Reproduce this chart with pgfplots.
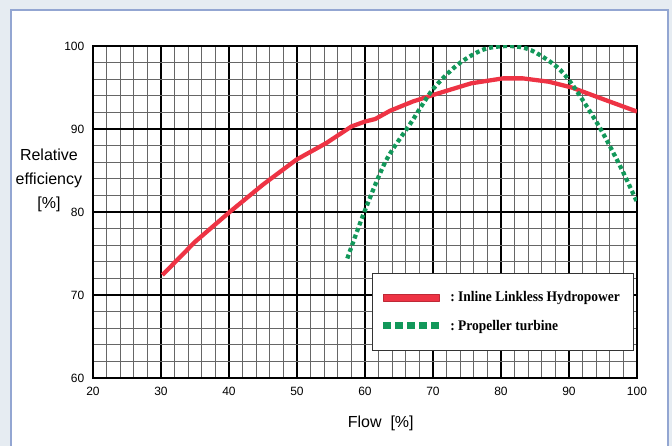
\documentclass[border=0pt]{standalone}
\usepackage{graphicx}
\usepackage{fontspec}
\setmainfont{Liberation Sans}
\newfontfamily\legfont{Liberation Serif}
\usepackage{pgfplots}
\pgfplotsset{compat=1.18}

\definecolor{hydrored}{HTML}{EE3344}
\definecolor{propgreen}{HTML}{12985A}
\definecolor{framebg}{HTML}{E6ECF2}
\definecolor{frameline}{HTML}{93A6D2}

\begin{document}
\begin{tikzpicture}
% page frame (672x446 px at 0.75pt/px)
\useasboundingbox (0,0) rectangle (504pt,334.5pt);
\fill[framebg] (0,0) rectangle (504pt,334.5pt);
\filldraw[fill=white, draw=frameline, line width=1.4pt] (8.25pt,-5pt) rectangle (501pt,327pt);

\begin{axis}[
    at={(69.75pt,51pt)}, anchor=south west,
    scale only axis,
    width=408pt, height=249pt,
    xmin=20, xmax=100, ymin=60, ymax=100,
    xtick={20,30,...,100}, ytick={60,70,...,100},
    minor tick num=4,
    major tick length=0pt, minor tick length=0pt,
    grid=both,
    major grid style={black, line width=1.1pt},
    minor grid style={black!60, line width=0.5pt},
    axis line style={black, line width=1.2pt},
    tick label style={font=\fontsize{9}{10}\selectfont},
    /pgf/number format/assume math mode=true,
    xticklabel style={yshift=-3pt},
    yticklabel style={xshift=-3pt},
    xlabel={Flow\ \ [\%]},
    ylabel={Relative\\efficiency\\{}[\%]},
    every axis x label/.style={at={(axis description cs:0.529,-0.136)}, anchor=center, font=\fontsize{12}{14}\selectfont},
    every axis y label/.style={at={(axis description cs:-0.081,0.596)}, anchor=center, align=center, font=\fontsize{12}{18}\selectfont},
    legend cell align=left,
    legend style={at={(axis description cs:0.513,0.081)}, anchor=south west,
        draw=black!80, line width=0.6pt, fill=white,
        inner xsep=8pt, inner ysep=12pt, row sep=8pt,
        font=\legfont\bfseries\fontsize{11}{12}\selectfont},
]
\addplot[hydrored, line width=3.2pt, line join=round,
    legend image code/.code={\filldraw[solid, draw=hydrored!80!black, fill=hydrored, line width=0.4pt] (0pt,-2.4pt) rectangle (42pt,2.4pt);}]
coordinates {
    (30.2,72.4) (35,76.4) (40.1,80.0) (45,83.3) (49.9,86.3) (54.3,88.3)
    (58.0,90.3) (60,90.9) (61.5,91.2) (63.7,92.2) (67,93.3) (70.0,94.1)
    (75.6,95.5) (80.3,96.1) (83.2,96.1) (87,95.7) (90.4,95.0) (95,93.6)
    (100,92.1)
};
\addlegendentry{\hspace{6pt}\scalebox{0.92}[1]{:\ Inline Linkless Hydropower}}

\addplot[propgreen, line width=3.2pt, dash pattern=on 3pt off 2.3pt, smooth,
    legend image code/.code={\foreach \i in {0,...,4} {\path[fill=propgreen, draw=none] (\i*9pt,-2.6pt) rectangle (\i*9pt+5.4pt,2.6pt);}}]
coordinates {
    (57.4,74.4) (59.9,80.0) (63.1,86.2) (66.8,90.8) (70.0,94.8)
    (73.7,97.8) (77.5,99.6) (81.3,100) (84.4,99.5) (88.2,97.5)
    (90.7,95.1) (94.5,90.2) (97.6,85.4) (100,81.2)
};
\addlegendentry{\hspace{6pt}\scalebox{0.92}[1]{:\ Propeller turbine}}
\end{axis}
\end{tikzpicture}
\end{document}
